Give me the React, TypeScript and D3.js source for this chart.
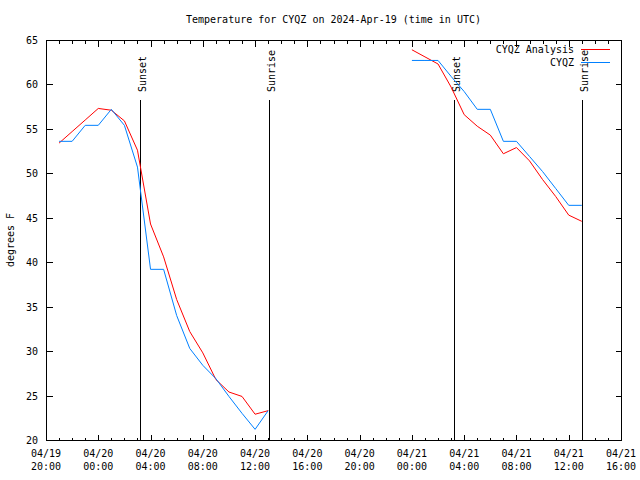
import React from "react";
import * as d3 from "d3";

const title = "Temperature for CYQZ on 2024-Apr-19 (time in UTC)";
const yLabel = "degrees F";
const seriesNames = ["CYQZ Analysis", "CYQZ"];
const seriesColors = ["#ff0000", "#0080ff"];

const seg1Times = [
  "2024-04-19T21:00:00Z", "2024-04-19T22:00:00Z", "2024-04-19T23:00:00Z",
  "2024-04-20T00:00:00Z", "2024-04-20T01:00:00Z", "2024-04-20T02:00:00Z",
  "2024-04-20T03:00:00Z", "2024-04-20T04:00:00Z", "2024-04-20T05:00:00Z",
  "2024-04-20T06:00:00Z", "2024-04-20T07:00:00Z", "2024-04-20T08:00:00Z",
  "2024-04-20T09:00:00Z", "2024-04-20T10:00:00Z", "2024-04-20T11:00:00Z",
  "2024-04-20T12:00:00Z", "2024-04-20T13:00:00Z",
];
const seg1Analysis = [53.4, 54.7, 56.0, 57.3, 57.1, 55.9, 52.6, 44.3, 40.6, 35.8, 32.2, 29.8, 26.8, 25.4, 24.9, 22.9, 23.3];
const seg1Obs = [53.6, 53.6, 55.4, 55.4, 57.2, 55.4, 50.7, 39.2, 39.2, 34.0, 30.3, 28.4, 26.9, 24.9, 23.0, 21.2, 23.3];

const seg2Times = [
  "2024-04-21T00:00:00Z", "2024-04-21T01:00:00Z", "2024-04-21T02:00:00Z",
  "2024-04-21T03:00:00Z", "2024-04-21T04:00:00Z", "2024-04-21T05:00:00Z",
  "2024-04-21T06:00:00Z", "2024-04-21T07:00:00Z", "2024-04-21T08:00:00Z",
  "2024-04-21T09:00:00Z", "2024-04-21T10:00:00Z", "2024-04-21T11:00:00Z",
  "2024-04-21T12:00:00Z", "2024-04-21T13:00:00Z",
];
const seg2Analysis = [63.9, 63.1, 62.3, 59.7, 56.6, 55.3, 54.3, 52.2, 52.9, 51.4, 49.3, 47.4, 45.3, 44.6];
const seg2Obs = [62.7, 62.7, 62.7, 60.9, 59.2, 57.2, 57.2, 53.6, 53.6, 51.9, 50.2, 48.3, 46.4, 46.4];

const sunEvents = [
  { label: "Sunset", time: "2024-04-20T03:12:00Z" },
  { label: "Sunrise", time: "2024-04-20T13:02:00Z" },
  { label: "Sunset", time: "2024-04-21T03:11:00Z" },
  { label: "Sunrise", time: "2024-04-21T12:59:00Z" },
];

const xDomain = ["2024-04-19T20:00:00Z", "2024-04-21T16:00:00Z"];
const yDomain = [20, 65];
const yTicks = [20, 25, 30, 35, 40, 45, 50, 55, 60, 65];

const W = 640, H = 480;
const L = 46, R = 621, T = 40, B = 440;
const FONT = "'DejaVu Sans Mono', monospace";

export default function App() {
  const x = d3.scaleUtc().domain(xDomain.map((s) => new Date(s))).range([L, R]);
  const y = d3.scaleLinear().domain(yDomain).range([B, T]);
  const majorTicks = d3.utcHour.every(4)!.range(new Date(xDomain[0]), new Date(new Date(xDomain[1]).getTime() + 1));
  const minorTicks = d3.utcHour.range(new Date(xDomain[0]), new Date(new Date(xDomain[1]).getTime() + 1));
  const fmtDate = d3.utcFormat("%m/%d");
  const fmtTime = d3.utcFormat("%H:%M");

  const line = d3.line<[string, number]>()
    .x((d) => x(new Date(d[0])))
    .y((d) => y(d[1]));

  const segments = [
    [seg1Times, seg1Analysis, seg1Obs],
    [seg2Times, seg2Analysis, seg2Obs],
  ] as const;

  const px = (v: number) => Math.round(v) + 0.5;

  return (
    <svg width={W} height={H} style={{ position: "absolute", left: 0, top: 0, background: "#fff" }} fontFamily={FONT} fontSize={10}>
      <rect x={0} y={0} width={W} height={H} fill="#fff" />
      <text x={(L + R) / 2} y={23} textAnchor="middle" fill="#000">{title}</text>
      <text transform={`translate(14,${(T + B) / 2}) rotate(-90)`} textAnchor="middle" fill="#000">{yLabel}</text>

      {yTicks.map((t) => (
        <g key={t}>
          <line x1={px(L)} x2={px(L) + 6} y1={px(y(t))} y2={px(y(t))} stroke="#000" shapeRendering="crispEdges" />
          <line x1={px(R) - 6} x2={px(R)} y1={px(y(t))} y2={px(y(t))} stroke="#000" shapeRendering="crispEdges" />
          <text x={38} y={y(t) + 4} textAnchor="end" fill="#000">{t}</text>
        </g>
      ))}

      {minorTicks.map((t, i) => (
        <g key={"m" + i}>
          <line x1={px(x(t))} x2={px(x(t))} y1={px(B)} y2={px(B) - 3} stroke="#000" shapeRendering="crispEdges" />
          <line x1={px(x(t))} x2={px(x(t))} y1={px(T)} y2={px(T) + 3} stroke="#000" shapeRendering="crispEdges" />
        </g>
      ))}
      {majorTicks.map((t, i) => (
        <g key={"M" + i}>
          <line x1={px(x(t))} x2={px(x(t))} y1={px(B)} y2={px(B) - 6} stroke="#000" shapeRendering="crispEdges" />
          <line x1={px(x(t))} x2={px(x(t))} y1={px(T)} y2={px(T) + 6} stroke="#000" shapeRendering="crispEdges" />
          <text x={x(t)} y={457} textAnchor="middle" fill="#000">{fmtDate(t)}</text>
          <text x={x(t)} y={470} textAnchor="middle" fill="#000">{fmtTime(t)}</text>
        </g>
      ))}

      {sunEvents.map((e, i) => {
        const xv = px(x(new Date(e.time)));
        return (
          <g key={"s" + i}>
            <line x1={xv} x2={xv} y1={100} y2={B} stroke="#000" shapeRendering="crispEdges" />
            <text transform={`translate(${xv + 5},92) rotate(-90)`} textAnchor="start" fill="#000">{e.label}</text>
          </g>
        );
      })}

      {segments.map(([times, an, ob], si) => (
        <g key={"seg" + si}>
          <path d={line(times.map((t, i) => [t, an[i]] as [string, number])) || ""} fill="none" stroke={seriesColors[0]} strokeWidth={1} />
          <path d={line(times.map((t, i) => [t, ob[i]] as [string, number])) || ""} fill="none" stroke={seriesColors[1]} strokeWidth={1} />
        </g>
      ))}

      {seriesNames.map((n, i) => (
        <g key={"lg" + i}>
          <text x={574} y={53 + i * 13} textAnchor="end" fill="#000">{n}</text>
          <line x1={581} x2={610} y1={49.5 + i * 13} y2={49.5 + i * 13} stroke={seriesColors[i]} shapeRendering="crispEdges" />
        </g>
      ))}

      <rect x={px(L)} y={px(T)} width={Math.round(R) - Math.round(L)} height={Math.round(B) - Math.round(T)} fill="none" stroke="#000" shapeRendering="crispEdges" />
    </svg>
  );
}
